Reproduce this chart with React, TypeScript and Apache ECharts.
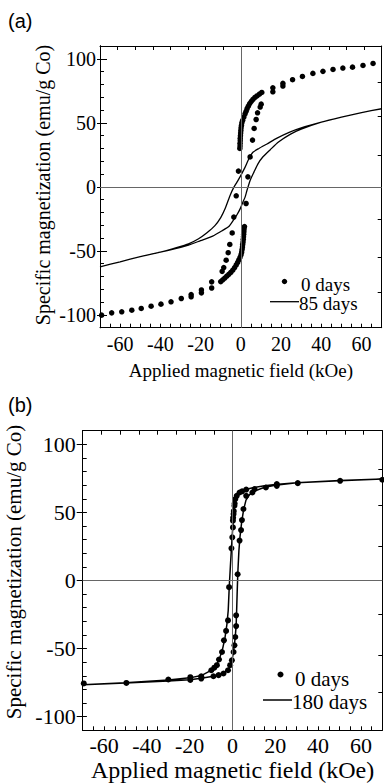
import React, { useEffect, useRef } from "react";
import * as echarts from "echarts";

const SERIF = "Liberation Serif";
const SANS = "Liberation Sans";

// Axis tick / label values
const xLabelValues = [-60, -40, -20, 0, 20, 40, 60];
const xBottomTicks = [-70, -65, -60, -55, -50, -45, -40, -35, -30, -25, -20, -15, -10, -5, 0, 5, 10, 15, 20, 25, 30, 35, 40, 45, 50, 55, 60, 65, 70];
const xTopTicks = [-70, -61.25, -52.5, -43.75, -35, -26.25, -17.5, -8.75, 0, 8.75, 17.5, 26.25, 35, 43.75, 52.5, 61.25, 70];
const yLabelValues = [-100, -50, 0, 50, 100];
const yMinorTicks = [-110, -100, -90, -80, -70, -60, -50, -40, -30, -20, -10, 0, 10, 20, 30, 40, 50, 60, 70, 80, 90, 100, 110];
const yRightTicks = [-82, -55, -25, 25, 55, 82];

// Panel (a): 0 days (points) [H kOe, M emu/g Co]
const a0days: number[][] = [
  [70.4, 97.4], [65.7, 96.4], [60.7, 94.8], [55.5, 93.5], [50.7, 92.8], [45.8, 91.7], [40.8, 90.2], [35.8, 88.6],
  [30.6, 86.2], [25.7, 83.7], [20.9, 80.8], [20.9, 78.7], [15.9, 77.3], [15.9, 74.2],
  [-0.5, 30], [-0.4, 32], [-0.4, 34], [-0.3, 36], [-0.3, 38], [-0.2, 40], [-0.1, 42], [0, 44], [0.1, 46], [0.3, 48],
  [0.5, 50], [0.9, 52], [1.5, 54.5], [2.1, 57], [2.6, 59], [3.1, 61], [3.7, 63], [4.4, 65], [5.2, 66.8], [6, 68.3],
  [7, 69.8], [8, 71], [9.2, 72.4], [10.4, 73.7],
  [10.1, 64.6], [9.6, 62.3], [8.3, 57.8], [7.6, 52.6], [6.6, 45.6], [5.8, 36.5], [4.6, 23.4], [3.5, 7.8], [2.6, -13],
  [-1.2, 12.3], [-2.3, -7], [-3.5, -23.6], [-4.3, -36], [-5.5, -45], [-6.3, -51.4], [-7.3, -57.3], [-8.5, -63], [-9.3, -66],
  [1.8, -31], [1.6, -33], [1.5, -35], [1.4, -37], [1.3, -39], [1.2, -41], [1.1, -43], [0.9, -45], [0.8, -47], [0.6, -49],
  [0.4, -51], [0.1, -53], [-0.4, -55], [-1, -57], [-1.6, -59], [-2.3, -61], [-3.1, -63], [-4, -65], [-5, -66.8], [-6, -68.3],
  [-7, -69.8], [-8, -71.2], [-9, -72.6], [-10, -74],
  [-14.5, -74.2], [-14.5, -79], [-19.6, -80.5], [-19.6, -82.8], [-24.7, -84.1], [-24.7, -85.9], [-29.6, -87.2],
  [-34.7, -89.8], [-39.7, -91.6], [-44.6, -93.2], [-49.5, -95], [-54.2, -96.3], [-59.2, -97.6], [-64.2, -98.4], [-69.2, -100.2],
];

// Panel (a): 85 days (loop line, descending then ascending)
const a85days: number[][] = [
  [70, 61], [60, 58], [50, 54.5], [40, 50.5], [30, 46], [24, 42.5], [18, 38], [13, 33.5], [9, 30], [6, 27], [4, 22],
  [2, 15], [0, 9], [-2, 3.5], [-3.7, -1], [-5.3, -6.5], [-7.8, -17], [-10, -24], [-13, -30.5], [-17, -36], [-21, -40.5],
  [-26, -44.5], [-32, -47.5], [-40, -51], [-50, -54.5], [-60, -58.5], [-70, -62.5],
  [-60, -58.5], [-50, -54.5], [-40, -51], [-32, -48], [-26, -45.5], [-20, -42], [-14, -38.5], [-9, -34], [-6, -31],
  [-3.7, -26], [-2, -22], [-0.3, -17], [1, -12], [2.1, -8], [3, -3], [4.6, 5], [6.5, 11.5], [8.5, 18], [11, 23.5],
  [14.6, 29], [18.7, 35], [24.5, 41], [30, 45], [40, 50.5], [50, 54.5], [60, 58], [70, 61],
];

// Panel (b): 0 days (points)
const b0days: number[][] = [
  [70, 74], [50.3, 73.2], [30.5, 71.5], [20.7, 70.8], [20.7, 69.5], [15.6, 68.3], [10.3, 67.1], [6.4, 66.8], [4.5, 65.5],
  [3.3, 64.6], [2, 62.2], [1.3, 59.8], [1, 56.5], [0.9, 54.9], [0.6, 51], [0.5, 48.8], [0.3, 46], [0.2, 43.9], [0.2, 39],
  [-0.1, 31.7], [-0.5, 23.6], [-1.6, -4.9], [-2.1, -29.3], [-3, -37], [-4, -43.9], [-4.9, -52.5], [-6.3, -58], [-7.3, -62.2],
  [-8.5, -64], [-9.9, -65.9], [-14.6, -70.3], [-19.7, -71], [-30, -72.7], [-49.6, -75.2], [-69.5, -75.6],
  [-19.7, -73], [-14.6, -72], [-8.9, -70.3], [-6.5, -69.5], [-4.2, -68.3], [-2.1, -65.9], [-1.1, -62.2], [-0.3, -58.6],
  [0.5, -52.5], [0.9, -47.6], [1.3, -41.5], [1.7, -33.5], [1.7, -25.6], [2.4, 4.6], [3.3, 29.3], [4, 37], [4.4, 44.4],
  [5.1, 52.5], [6.4, 62.2], [9.3, 64.6],
];

// Panel (b): 180 days (loop line)
const b180days: number[][] = [
  [70, 74.5], [50, 73.3], [30, 71.8], [20, 70.5], [15, 69.5], [10, 68.3], [6.5, 67], [4, 65.5], [2.5, 63.3], [1.5, 60.5],
  [1, 56], [0.6, 50], [0.3, 44], [0, 36], [-0.4, 26], [-1, 10], [-1.5, -4], [-2, -22], [-2.6, -32], [-3.5, -42], [-4.6, -50],
  [-6, -57], [-7.5, -62], [-10, -66], [-14.6, -69.8], [-20, -71.5], [-30, -73], [-50, -75], [-70, -76.5],
  [-50, -75.3], [-30, -73.8], [-20, -72.8], [-14.6, -71.8], [-9, -70.3], [-6, -69], [-4, -67.8], [-2.3, -66], [-1.2, -63],
  [-0.3, -59], [0.4, -53], [0.9, -47], [1.3, -41], [1.7, -33], [1.9, -24], [2.2, -8], [2.5, 6], [3, 22], [3.5, 32],
  [4.3, 43], [5.2, 52], [6.3, 59], [8, 63], [10, 65.5], [15, 68.5], [20, 70], [30, 71.8], [50, 73.5], [70, 74.5],
];

const BLACK = "#000";

function xAxes(gridIndex: number, labelSize: number, nameSize: number, labelMargin: number, nameGap: number) {
  return [
    {
      type: "value", gridIndex, position: "bottom", min: -70, max: 70,
      axisLine: { show: true, onZero: false, lineStyle: { color: BLACK, width: 1 } },
      axisTick: { show: true, inside: true, length: 4, customValues: xBottomTicks, lineStyle: { color: BLACK } },
      axisLabel: { show: true, customValues: xLabelValues, margin: labelMargin, color: BLACK, fontFamily: SERIF, fontSize: labelSize },
      splitLine: { show: false },
      name: "Applied magnetic field (kOe)", nameLocation: "middle", nameGap,
      nameTextStyle: { color: BLACK, fontFamily: SERIF, fontSize: nameSize },
    },
    {
      type: "value", gridIndex, position: "top", min: -70, max: 70,
      axisLine: { show: true, onZero: false, lineStyle: { color: BLACK, width: 1 } },
      axisTick: { show: true, inside: true, length: 4, customValues: xTopTicks, lineStyle: { color: BLACK } },
      axisLabel: { show: false },
      splitLine: { show: false },
    },
  ];
}

function yAxes(gridIndex: number, labelSize: number, labelMargin: number, outLen: number, inLen: number) {
  const base = { type: "value", gridIndex, min: -110, max: 110, splitLine: { show: false } };
  return [
    {
      ...base, position: "left",
      axisLine: { show: true, onZero: false, lineStyle: { color: BLACK, width: 1 } },
      axisTick: { show: true, inside: false, length: outLen, customValues: yLabelValues, lineStyle: { color: BLACK } },
      axisLabel: { show: true, customValues: yLabelValues, margin: labelMargin, color: BLACK, fontFamily: SERIF, fontSize: labelSize },
    },
    {
      ...base, position: "left",
      axisLine: { show: true, onZero: false, lineStyle: { color: BLACK, width: 1 } },
      axisTick: { show: true, inside: true, length: 4, customValues: yMinorTicks, lineStyle: { color: BLACK } },
      axisLabel: { show: false },
    },
    {
      ...base, position: "left",
      axisLine: { show: true, onZero: false, lineStyle: { color: BLACK, width: 1 } },
      axisTick: { show: true, inside: true, length: inLen, customValues: yLabelValues, lineStyle: { color: BLACK } },
      axisLabel: { show: false },
    },
    {
      ...base, position: "right",
      axisLine: { show: true, onZero: false, lineStyle: { color: BLACK, width: 1 } },
      axisTick: { show: true, inside: true, length: 4, customValues: yRightTicks, lineStyle: { color: BLACK } },
      axisLabel: { show: false },
    },
  ];
}

const zeroLines = {
  silent: true,
  symbol: "none",
  label: { show: false },
  lineStyle: { color: "#666", width: 1, type: "solid" },
  data: [{ xAxis: 0 }, { yAxis: 0 }],
};

export default function App() {
  const ref = useRef<HTMLDivElement>(null);

  useEffect(() => {
    if (!ref.current) return;
    const chart = echarts.init(ref.current, null, { renderer: "svg" });
    const option: any = {
      animation: false,
      backgroundColor: "#fff",
      textStyle: { fontFamily: SERIF },
      grid: [
        { left: 100, top: 46, width: 281.7, height: 281.7, outerBoundsMode: "none" },
        { left: 82.7, top: 430.7, width: 299.6, height: 299.6, outerBoundsMode: "none" },
      ],
      xAxis: [...xAxes(0, 20, 19, 6, 33), ...xAxes(1, 22, 24, 4, 28)],
      yAxis: [...yAxes(0, 20, 4, 3, 7), ...yAxes(1, 22, 7, 6, 4)],
      series: [
        {
          name: "0 days", type: "scatter", xAxisIndex: 0, yAxisIndex: 0, data: a0days,
          symbol: "circle", symbolSize: 5.5, itemStyle: { color: BLACK, opacity: 1 }, markLine: zeroLines, z: 3,
        },
        {
          name: "85 days", type: "line", xAxisIndex: 0, yAxisIndex: 0, data: a85days,
          showSymbol: false, symbol: "none", smooth: 0.2, lineStyle: { color: BLACK, width: 1.3 }, z: 2,
        },
        {
          name: "0 days", type: "scatter", xAxisIndex: 2, yAxisIndex: 4, data: b0days,
          symbol: "circle", symbolSize: 6, itemStyle: { color: BLACK, opacity: 1 }, markLine: zeroLines, z: 3,
        },
        {
          name: "180 days", type: "line", xAxisIndex: 2, yAxisIndex: 4, data: b180days,
          showSymbol: false, symbol: "none", smooth: false, lineStyle: { color: BLACK, width: 1.5 }, z: 2,
        },
      ],
      graphic: [
        { type: "text", left: 8, top: 11, style: { text: "(a)", fontFamily: SANS, fontSize: 20, fill: BLACK } },
        { type: "text", left: 8, top: 395, style: { text: "(b)", fontFamily: SANS, fontSize: 20, fill: BLACK } },
        {
          type: "text", x: 42.5, y: 185, rotation: Math.PI / 2,
          style: { text: "Specific magnetization (emu/g Co)", fontFamily: SERIF, fontSize: 20, fill: BLACK, align: "center", verticalAlign: "middle" },
        },
        {
          type: "text", x: 14, y: 572, rotation: Math.PI / 2,
          style: { text: "Specific magnetization (emu/g Co)", fontFamily: SERIF, fontSize: 21, fill: BLACK, align: "center", verticalAlign: "middle" },
        },
        // legend (a)
        { type: "circle", shape: { cx: 284.5, cy: 281.5, r: 2.7 }, style: { fill: BLACK } },
        { type: "text", x: 301, y: 284, style: { text: "0 days", fontFamily: SERIF, fontSize: 19, fill: BLACK, verticalAlign: "middle" } },
        { type: "line", shape: { x1: 270, y1: 301.7, x2: 299, y2: 301.7 }, style: { stroke: BLACK, lineWidth: 1.3 } },
        { type: "text", x: 299, y: 303.5, style: { text: "85 days", fontFamily: SERIF, fontSize: 19, fill: BLACK, verticalAlign: "middle" } },
        // legend (b)
        { type: "circle", shape: { cx: 280.5, cy: 674.5, r: 3 }, style: { fill: BLACK } },
        { type: "text", x: 295, y: 679, style: { text: "0 days", fontFamily: SERIF, fontSize: 21, fill: BLACK, verticalAlign: "middle" } },
        { type: "line", shape: { x1: 263, y1: 700, x2: 292, y2: 700 }, style: { stroke: BLACK, lineWidth: 1.5 } },
        { type: "text", x: 292, y: 701.5, style: { text: "180 days", fontFamily: SERIF, fontSize: 21, fill: BLACK, verticalAlign: "middle" } },
      ],
    };
    chart.setOption(option);
    return () => chart.dispose();
  }, []);

  return (
    <div
      ref={ref}
      style={{ position: "absolute", left: 0, top: 0, width: 384, height: 783, background: "#fff" }}
    />
  );
}
